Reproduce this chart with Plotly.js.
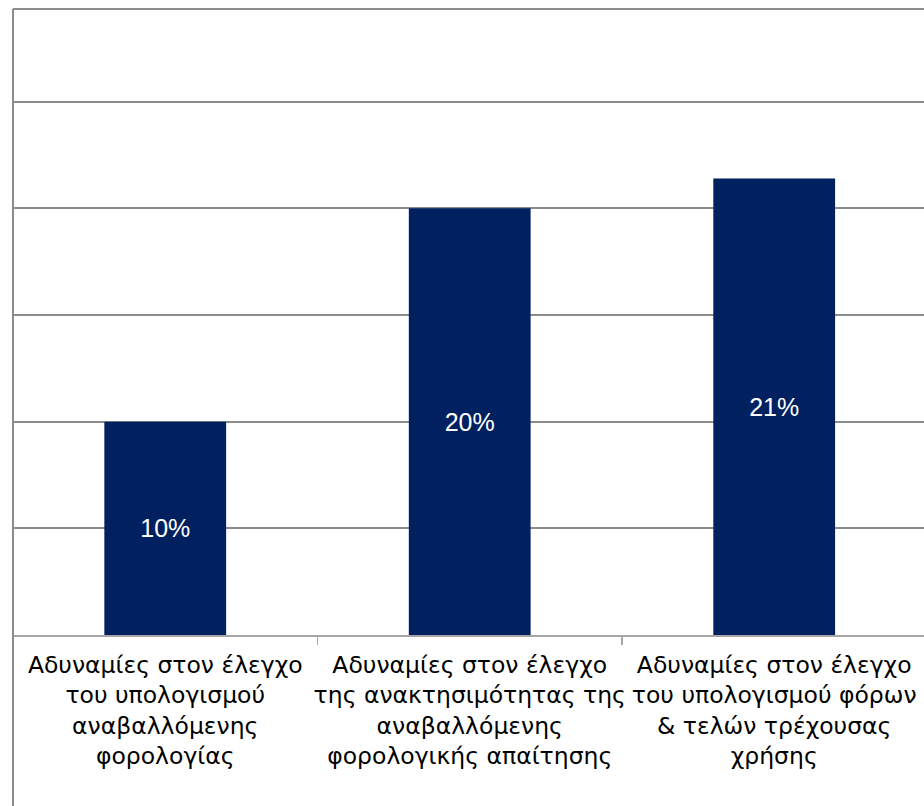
<!DOCTYPE html>
<html>
<head>
<meta charset="utf-8">
<script src="https://cdn.plot.ly/plotly-3.0.1.min.js"></script>
<style>html,body{margin:0;padding:0;background:#fff;}#chart{width:924px;height:806px;}</style>
</head>
<body>
<div id="chart"></div>
<script>
var categories = [
  "Αδυναμίες στον έλεγχο<br>του υπολογισμού<br>αναβαλλόμενης<br>φορολογίας",
  "Αδυναμίες στον έλεγχο<br>της ανακτησιμότητας της<br>αναβαλλόμενης<br>φορολογικής απαίτησης",
  "Αδυναμίες στον έλεγχο<br>του υπολογισμού φόρων<br>& τελών τρέχουσας<br>χρήσης"
];
var values = [10, 20, 21.4];

var trace = {
  type: 'bar',
  x: categories,
  y: values,
  width: 0.4,
  marker: {color: '#002060'},
  texttemplate: '%{y:.0f}%',
  textposition: 'inside',
  insidetextanchor: 'middle',
  textangle: 0,
  insidetextfont: {family: 'Liberation Sans, Arial, sans-serif', size: 25, color: '#ffffff'},
  hoverinfo: 'none'
};

var layout = {
  width: 924,
  height: 806,
  margin: {l: 13, r: 0, t: 9, b: 171, pad: 0},
  paper_bgcolor: '#ffffff',
  plot_bgcolor: '#ffffff',
  showlegend: false,
  bargap: 0.6,
  xaxis: {
    type: 'category',
    range: [-0.5, 2.492],
    showgrid: false,
    showline: true,
    linecolor: '#a6a6a6',
    linewidth: 1.5,
    ticks: 'outside',
    tickson: 'boundaries',
    ticklen: 8,
    tickwidth: 1.5,
    tickcolor: '#a6a6a6',
    tickfont: {family: '"DejaVu Sans", sans-serif', size: 23.5, color: '#000000'},
    tickangle: 0,
    ticklabelstandoff: 8
  },
  yaxis: {
    range: [0, 29.34],
    dtick: 5,
    tick0: 0,
    showgrid: true,
    gridcolor: '#8c8c8c',
    gridwidth: 2,
    zeroline: false,
    showline: false,
    showticklabels: false,
    ticks: ''
  },
  shapes: [
    {type: 'line', xref: 'paper', yref: 'paper', x0: 0, x1: 0, y0: -171/626, y1: 1,
     line: {color: '#8c8c8c', width: 2}},
    {type: 'line', xref: 'paper', yref: 'paper', x0: 0, x1: 1.01, y0: 1, y1: 1,
     line: {color: '#8c8c8c', width: 2}}
  ]
};

Plotly.newPlot('chart', [trace], layout, {displayModeBar: false, staticPlot: true});
</script>
</body>
</html>
